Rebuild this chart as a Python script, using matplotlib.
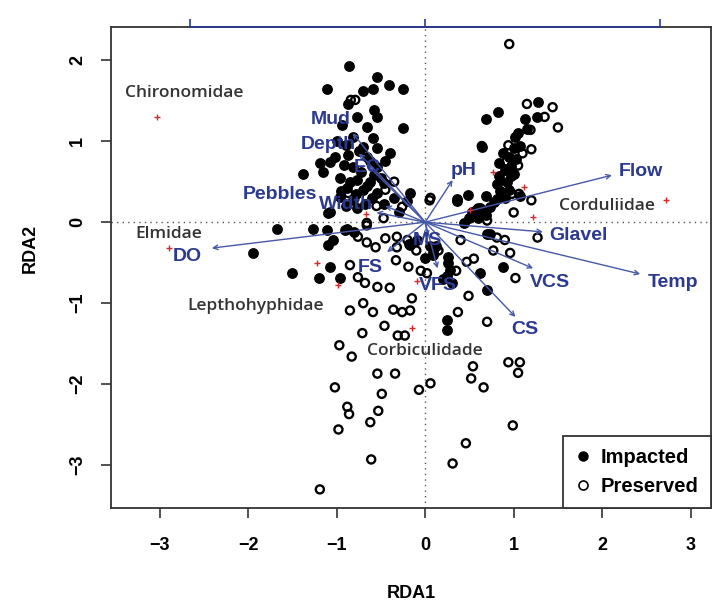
import numpy as np
import matplotlib.pyplot as plt
from matplotlib.lines import Line2D

plt.rcParams['font.family'] = ['Liberation Sans', 'DejaVu Sans']

# sites - impacted (filled)
imp_x = [-0.86, -0.54, -0.41, -0.25, -1.11, -0.59, -0.70, -0.87, -0.58, -0.25, -0.77, -0.54, -0.94, -0.66,
         -0.81, -0.59, -0.70, -0.54, -0.40, -1.02, -0.87, -0.66, -1.19, -1.07, -0.81, -0.54, -1.38, -1.15,
         -0.96, -0.77, -0.62, -0.47, -0.88, -0.70, -0.54, -0.17, -0.96, -0.81, -0.47, -1.07, -0.77,
         -0.90, -0.75, -0.62, -0.92, -0.72, -0.58, -0.85, -0.66, -0.78, -0.60, -0.90, -0.68, -0.50, -0.45,
         -1.00, -0.95, -0.35, -0.30, -1.10, -0.21,
         -1.67, -1.27, -1.11, -0.88, -1.04, -1.10, -1.94, -1.50, -1.20, -1.08, -0.96, -0.17, -0.09, 0.00,
         -0.80, -0.91, -0.18, 0.05, 0.09,
         0.09, 0.26, 0.26, 0.28, 0.25, 0.25, 0.88, 0.70, 0.62, 0.70, 0.12, 0.20, 0.30, 0.25,
         1.28, 0.82, 0.69, 1.13, 1.26, 1.02, 0.64, 1.07, 1.00, 0.95, 1.03, 0.84, 0.97, 0.84, 0.97, 0.81,
         1.07, 0.81, 0.69, 0.48, 0.36, 0.62, 0.73, 0.58, 0.69, 0.53, 0.44, 0.73, 0.90, 0.92, 0.95, 1.00,
         0.88, 1.05, 1.15, 0.85, 0.78, 0.90, 0.65, 0.60, 0.50, 0.36]
imp_y = [1.93, 1.79, 1.69, 1.64, 1.64, 1.64, 1.62, 1.46, 1.38, 1.16, 1.30, 1.30, 1.20, 1.17,
         1.05, 1.04, 0.93, 0.91, 0.85, 0.80, 0.83, 0.80, 0.73, 0.74, 0.68, 0.68, 0.60, 0.62,
         0.54, 0.52, 0.49, 0.48, 0.42, 0.40, 0.36, 0.36, 0.31, 0.27, 0.23, 0.12, 0.17,
         0.95, 0.88, 0.75, 0.70, 0.62, 0.58, 0.50, 0.45, 0.35, 0.30, 0.20, 0.22, 0.55, 0.75,
         1.00, 0.38, 0.30, 0.12, 0.11, 0.26,
         -0.09, -0.09, -0.10, -0.08, -0.22, -0.28, -0.38, -0.63, -0.69, -0.55, -0.69, -0.28, -0.22, -0.44,
         -0.12, -0.10, -0.27, -0.30, -0.37,
         -0.41, -0.43, -0.51, -0.59, -1.33, -1.21, -0.55, -0.84, -0.63, -0.14, -0.30, -0.70, -0.75, -0.67,
         1.48, 1.36, 1.28, 1.27, 1.30, 1.05, 0.93, 0.94, 0.92, 0.80, 0.78, 0.73, 0.69, 0.57, 0.57, 0.47,
         0.32, 0.28, 0.32, 0.33, 0.28, 0.18, 0.19, 0.15, 0.09, 0.12, -0.01, -0.15, 0.65, 0.50, 0.40, 0.60,
         0.85, 1.10, 1.15, 0.38, 0.25, 0.30, 0.12, 0.05, 0.05, 0.26]

# sites - preserved (open)
pre_x = [-0.79, -0.87, -0.45, -0.26, 0.06, -0.47, -0.66, -0.84, -0.55, -0.35,
         -0.66, -0.76, -0.66, -0.56, -0.32, -0.32, -0.20, -0.33, -0.19, -0.85, -0.76, -0.68, -0.54,
         -0.40, -0.15, -0.85, -0.70, -0.59, -0.36, -0.26, -0.17, -0.46, -0.71, -0.31, -0.23, -0.97,
         -0.83, -0.54, -0.34, -1.02, -0.49, -0.88, -0.86, -0.53, -0.62, -0.98, -0.07, 0.06, -0.61,
         -1.19, -0.45, -0.10, -0.05,
         0.02, 1.02, 0.49, 0.37, 0.70, 0.54, 0.94, 1.07, 1.05, 0.52, 0.66, 0.99, 0.46, 0.31, 0.40,
         0.47, 0.77, 0.96, 1.27, 0.81, 0.90, 0.15, 0.55, 0.35,
         0.95, 1.15, 1.44, 1.50, 1.19, 1.35, 0.64, 0.94, 1.10, 1.05, 0.98, 0.90, 0.98, 1.06, 1.20,
         0.05, 0.60, 0.70, 1.00, 0.92, 1.20]
pre_y = [1.51, 0.36, 0.40, 0.19, 0.30, 0.05, -0.01, 1.51, 0.20, 0.50,
         -0.04, -0.18, -0.25, -0.31, -0.18, -0.31, -0.22, -0.47, -0.55, -0.53, -0.68, -0.75, -0.80,
         -0.81, -0.94, -1.09, -1.00, -1.11, -1.08, -1.11, -1.09, -1.28, -1.37, -1.40, -1.40, -1.52,
         -1.66, -1.87, -1.87, -2.04, -2.12, -2.28, -2.37, -2.33, -2.47, -2.56, -2.07, -1.99, -2.93,
         -3.30, -0.20, -0.35, -0.60,
         -0.63, -0.69, -0.91, -1.11, -1.23, -1.78, -1.73, -1.73, -1.86, -1.93, -2.04, -2.51, -2.73, -2.98, -0.22,
         -0.49, -0.35, -0.38, -0.19, -0.19, -0.22, -0.35, -0.45, -0.60,
         2.20, 1.46, 1.42, 1.17, 1.14, 1.30, 0.94, 0.95, 0.85, 0.70, 0.62, 0.45, 0.35, 0.35, 0.27,
         0.27, 0.17, 0.02, 0.12, 0.75, 0.90]

# environmental vectors
env_names = ['Flow', 'Glavel', 'Temp', 'VCS', 'CS', 'VFS', 'FS', 'DO', 'Pebbles', 'Width',
             'Mud', 'Depth', 'EC', 'pH', 'MS']
env_x = [2.11, 1.33, 2.43, 1.22, 1.02, 0.14, -0.43, -2.41, -0.55, -0.45, -0.82, -0.75, -0.65, 0.31, 0.03]
env_y = [0.58, -0.12, -0.64, -0.57, -1.17, -0.57, -0.37, -0.32, 0.12, 0.20, 1.10, 0.85, 0.70, 0.52, -0.18]
env_lx = [2.44, 1.73, 2.80, 1.41, 1.13, 0.14, -0.62, -2.69, -1.64, -0.90, -1.07, -1.10, -0.66, 0.43, 0.02]
env_ly = [0.63, -0.17, -0.74, -0.74, -1.33, -0.78, -0.56, -0.43, 0.34, 0.22, 1.27, 0.96, 0.68, 0.64, -0.23]

# species scores
sp_x = [-3.03, -2.89, -0.67, -1.22, -0.99, -0.15, -0.09, 0.77, 1.12, 1.22, 2.72, 0.51]
sp_y = [1.30, -0.32, 0.10, -0.51, -0.78, -1.31, -0.73, 0.62, 0.44, 0.06, 0.27, 0.15]
sp_names = ['Chironomidae', 'Elmidae', 'Lepthohyphidae', 'Corbiculidade', 'Corduliidae']
sp_lx = [-2.72, -2.90, -1.92, 0.0, 2.05]
sp_ly = [1.59, -0.15, -1.04, -1.59, 0.20]

blue = '#2b3990'
arrow_col = '#4658a8'

fig = plt.figure(figsize=(7.12, 6.03), dpi=100)
ax = fig.add_axes([0.1559, 0.1575, 0.8427, 0.7977])
ax.set_xlim(-3.55, 3.23)
ax.set_ylim(-3.53, 2.41)

ax.axhline(0, color='#555555', ls=(0, (1, 3)), lw=1, zorder=1)
ax.axvline(0, color='#555555', ls=(0, (1, 3)), lw=1, zorder=1)

ax.scatter(imp_x, imp_y, s=46, c='black', edgecolors='black', zorder=3)
ax.scatter(pre_x, pre_y, s=34, facecolors='none', edgecolors='black', linewidths=1.7, zorder=3)

for xe, ye in zip(env_x, env_y):
    ax.annotate('', xy=(xe, ye), xytext=(0, 0),
                arrowprops=dict(arrowstyle='->', color=arrow_col, lw=1.0,
                                shrinkA=0, shrinkB=0, mutation_scale=8), zorder=4)
for n, lx, ly in zip(env_names, env_lx, env_ly):
    ax.text(lx, ly, n, color=blue, fontsize=14, fontweight='bold', ha='center', va='center', zorder=5)

ax.scatter(sp_x, sp_y, marker='+', c='#d42a2a', s=22, linewidths=1.0, zorder=5)
for n, lx, ly in zip(sp_names, sp_lx, sp_ly):
    ax.text(lx, ly, n, color='#333333', fontsize=12.5, fontweight='semibold', family='Open Sans',
            ha='center', va='center', zorder=5)

for s in ax.spines.values():
    s.set_color('#333333')
    s.set_linewidth(1.3)

ax.set_xticks([-3, -2, -1, 0, 1, 2, 3])
ax.set_yticks([-3, -2, -1, 0, 1, 2])
ax.tick_params(direction='out', length=7, width=1.2, color='#333333', labelsize=13, pad=14)
ax.tick_params(axis='y', pad=11)
for lab in ax.get_xticklabels() + ax.get_yticklabels():
    lab.set_fontweight('bold')
plt.setp(ax.get_yticklabels(), rotation=90, va='center')

ax.set_xlabel('RDA1', fontsize=13, fontweight='bold', va='center')
ax.set_ylabel('RDA2', fontsize=13, fontweight='bold', va='center')
ax.xaxis.set_label_coords(0.5, -0.177)
ax.yaxis.set_label_coords(-0.135, 0.54)

# top axis for the vector scale
ax2 = ax.twiny()
ax2.set_xlim(-3.55 / 2.655, 3.23 / 2.655)
ax2.set_xticks([-1, 0, 1])
ax2.tick_params(axis='x', direction='out', length=6, width=1.2, color=blue, labeltop=False)
for k in ['bottom', 'left', 'right']:
    ax2.spines[k].set_visible(False)
ax2.spines['top'].set_bounds(-1, 1)
ax2.spines['top'].set_color(blue)
ax2.spines['top'].set_linewidth(1.3)

handles = [Line2D([], [], marker='o', ls='', color='black', markersize=6.5),
           Line2D([], [], marker='o', ls='', markerfacecolor='none', markeredgecolor='black',
                  markeredgewidth=1.2, markersize=6.5)]
leg = ax.legend(handles, ['Impacted', 'Preserved'], loc='lower right', borderaxespad=0,
                fancybox=False, framealpha=1, edgecolor='#333333', handletextpad=0.5,
                handlelength=0.8, borderpad=0.6, labelspacing=0.5,
                prop={'size': 14.5, 'weight': 'bold'})
leg.get_frame().set_linewidth(1.3)
leg.set_zorder(6)

fig.savefig('out.png', dpi=100)
